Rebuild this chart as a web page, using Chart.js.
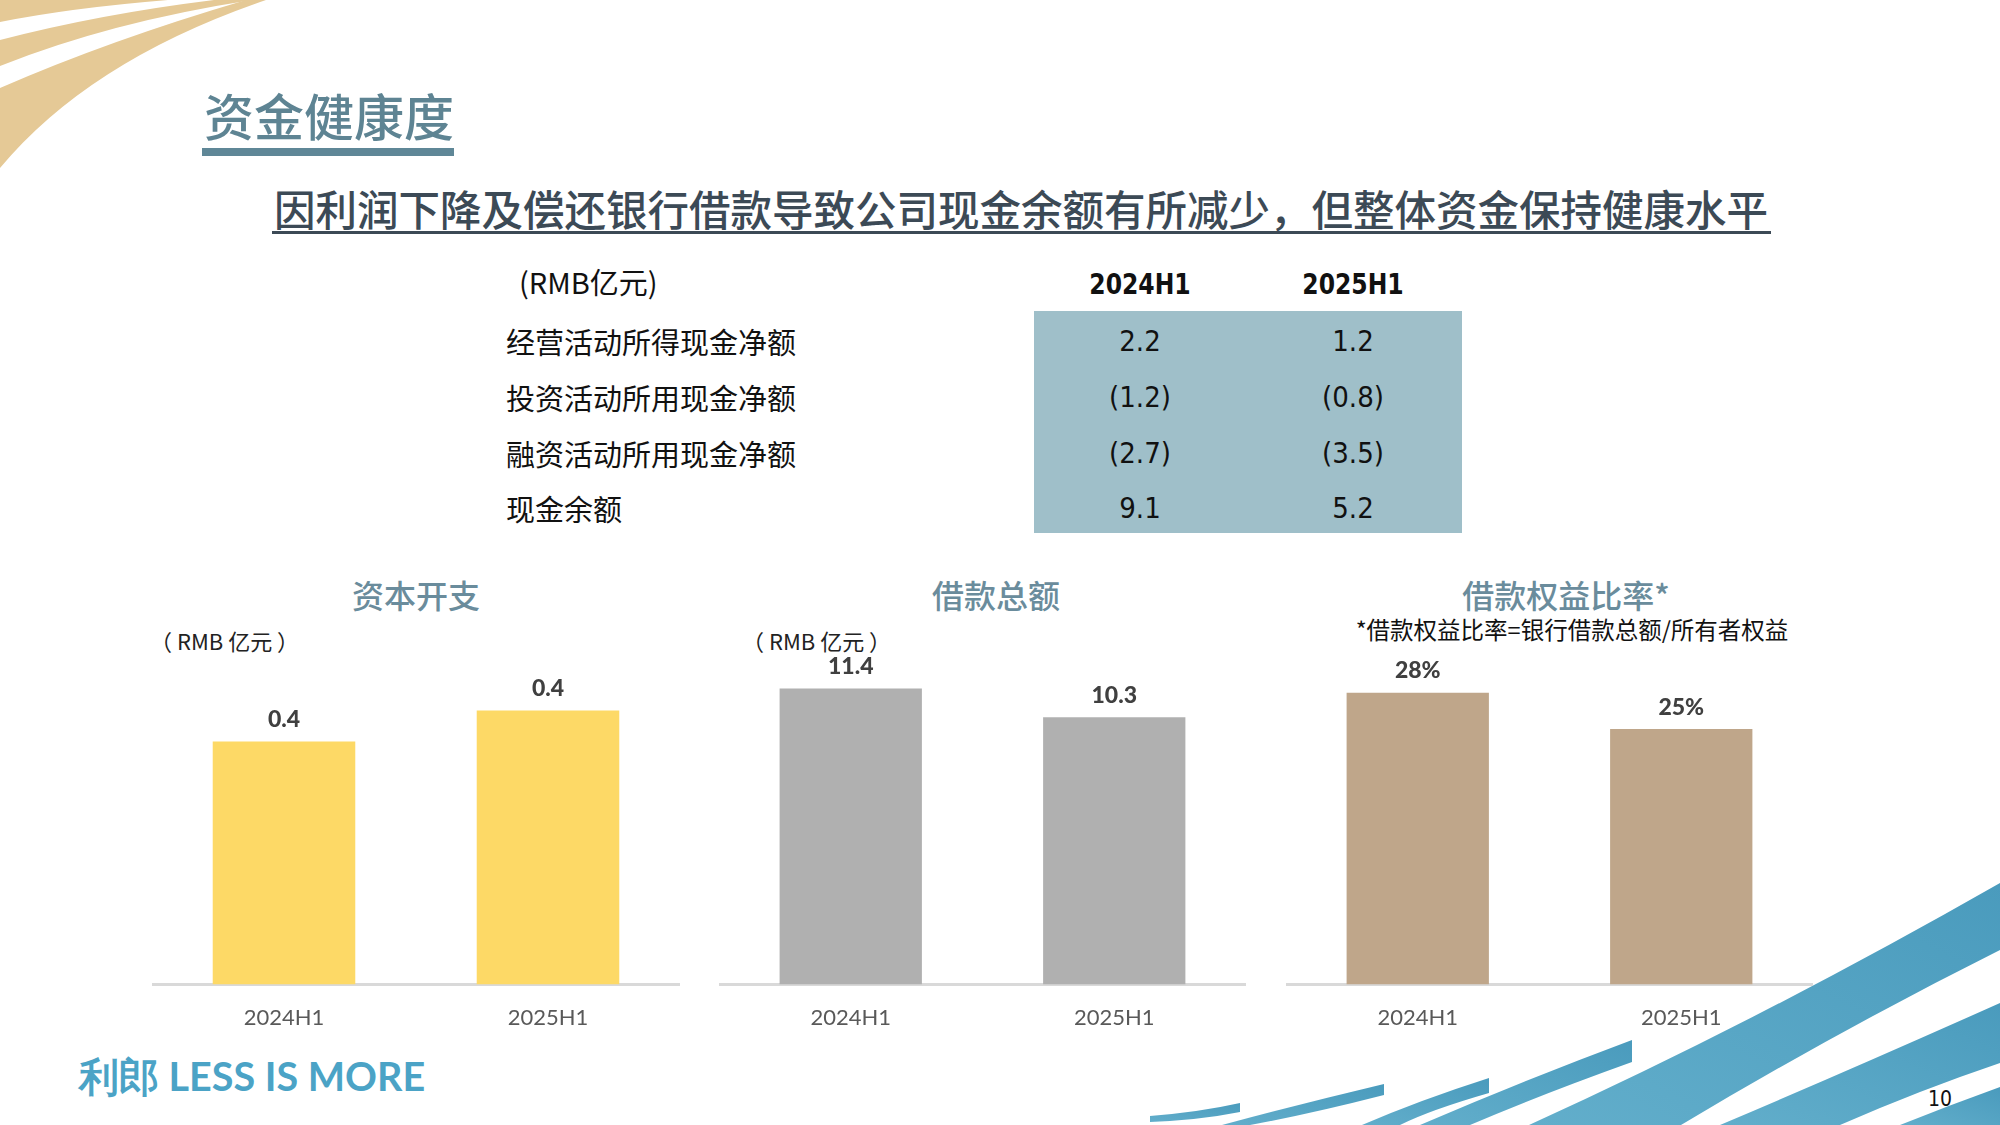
<!DOCTYPE html>
<html>
<head>
<meta charset="utf-8">
<script src="https://cdn.jsdelivr.net/npm/chart.js@4.4.1/dist/chart.umd.min.js"></script>
<style>
  html, body { margin: 0; padding: 0; background: #fff; }
  #page { position: relative; width: 2000px; height: 1125px; overflow: hidden; background: #fff; font-family: "Noto Sans CJK SC", "Noto Sans", sans-serif; }
  .abs { position: absolute; white-space: nowrap; }
  .ctr { transform: translate(-50%, -50%); }
  .midY { transform: translateY(-50%); }
  .panelTitle { font-size: 32px; color: #6a8c9c; font-weight: 500; }
  .unit { font-size: 22px; color: #222; }
  .tbl { font-size: 29px; color: #111; }
  .num { font-family: "Liberation Sans Narrow", "Arial Narrow", "DejaVu Sans", sans-serif; font-stretch: condensed; font-size: 29px; color: #111; }
  .hdr { transform: translate(-50%, -50%) scaleX(0.9); font-weight: bold; }
  canvas { position: absolute; }
</style>
</head>
<body>
<div id="page">
  <svg class="abs" style="left:0;top:0" width="2000" height="1125" viewBox="0 0 2000 1125">
    <defs>
      <linearGradient id="blue" x1="0" y1="1" x2="1" y2="0">
        <stop offset="0" stop-color="#62aecb"/>
        <stop offset="1" stop-color="#4a9bbd"/>
      </linearGradient>
    </defs>
    <g fill="#e5c996">
      <path d="M0,0 L0,22 Q70,8 168,0 Z"/>
      <path d="M0,40 L0,66 Q110,22 252,0 L214,0 Q100,14 0,40 Z"/>
      <path d="M0,88 L0,168 Q90,60 266,0 L246,0 Q110,40 0,88 Z"/>
    </g>
    <g fill="url(#blue)">
      <path d="M2000,883 Q1760,1020 1529,1125 L1681,1125 Q1840,1030 2000,950 Z"/>
      <path d="M2000,1003 Q1850,1070 1720,1125 L1840,1125 Q1920,1090 2000,1063 Z"/>
      <path d="M2000,1087 Q1950,1105 1900,1125 L2000,1125 Z"/>
      <path d="M1632,1040 L1632,1062 Q1540,1095 1470,1125 L1420,1125 Q1530,1078 1632,1040 Z"/>
      <path d="M1489,1078 L1489,1093 Q1430,1110 1400,1125 L1362,1125 Q1420,1100 1489,1078 Z"/>
      <path d="M1384,1084 L1384,1095 Q1310,1114 1250,1125 L1222,1125 Q1300,1104 1384,1084 Z"/>
      <path d="M1240,1103 L1240,1112 Q1200,1120 1150,1122 L1150,1116 Q1200,1112 1240,1103 Z"/>
    </g>
  </svg>

  <div class="abs midY" style="left:204px;top:114px;font-size:50px;color:#5e8493;font-weight:500;">资金健康度</div>
  <div class="abs" style="left:202px;top:148px;width:252px;height:8px;background:#5f8797;"></div>

  <div class="abs ctr" style="left:1021px;top:208px;font-size:41.5px;color:#3c4a56;font-weight:500;">因利润下降及偿还银行借款导致公司现金余额有所减少，但整体资金保持健康水平</div>
  <div class="abs" style="left:272px;top:231px;width:1499px;height:3px;background:#3c4a56;"></div>

  <div id="table"></div>

  <div class="abs ctr panelTitle" style="left:416px;top:594px;">资本开支</div>
  <div class="abs ctr panelTitle" style="left:996px;top:594px;">借款总额</div>
  <div class="abs ctr panelTitle" style="left:1566px;top:594px;">借款权益比率*</div>
  <div class="abs midY unit" style="left:150px;top:640px;">（ RMB 亿元 ）</div>
  <div class="abs midY unit" style="left:742px;top:640px;">（ RMB 亿元 ）</div>
  <div class="abs ctr unit" style="left:1572px;top:629px;font-size:23.5px;color:#111;">*借款权益比率=银行借款总额/所有者权益</div>

  <canvas id="capex"></canvas>
  <canvas id="borrow"></canvas>
  <canvas id="gearing"></canvas>

  <div class="abs midY" style="left:79px;top:1078px;font-family:'Lato','Noto Sans',sans-serif;font-size:39.5px;font-weight:700;color:#4ba3c6;">利郎 LESS IS MORE</div>
  <div class="abs ctr" style="left:1940px;top:1099px;font-family:'Liberation Sans Narrow','DejaVu Sans',sans-serif;font-stretch:condensed;font-size:21px;color:#111;">10</div>
</div>

<script>
// periods shared by the table and the three bar charts
const periods = ["2024H1", "2025H1"];

// cash flow table (RMB 亿元), negatives shown in brackets
const cashFlowRows = ["经营活动所得现金净额", "投资活动所用现金净额", "融资活动所用现金净额", "现金余额"];
const cashFlow2024 = [2.2, -1.2, -2.7, 9.1];
const cashFlow2025 = [1.2, -0.8, -3.5, 5.2];

// bar charts
const capexValues = [0.39, 0.44];
const borrowingValues = [11.4, 10.3];
const gearingValues = [28.1, 24.6];

function fmtFlow(v) {
    const s = Math.abs(v).toFixed(1);
    return v < 0 ? "(" + s + ")" : s;
}

// table, laid out as on the slide
(function buildTable() {
    const host = document.getElementById("table");
    const colX = [1140, 1353];
    const rowY = [341, 397, 453, 508];
    let html = '<div class="abs midY tbl" style="left:519px;top:281px;font-family:\'Liberation Sans Narrow\',\'Noto Sans CJK SC\',sans-serif;">(RMB亿元)</div>';
    periods.forEach((p, i) => {
        html += `<div class="abs num hdr" style="left:${colX[i]}px;top:284px;">${p}</div>`;
    });
    html += '<div class="abs" style="left:1034px;top:311px;width:428px;height:222px;background:#9fbfc9;"></div>';
    cashFlowRows.forEach((name, r) => {
        html += `<div class="abs midY tbl" style="left:506px;top:${rowY[r]}px;">${name}</div>`;
        html += `<div class="abs ctr num" style="left:${colX[0]}px;top:${rowY[r]}px;">${fmtFlow(cashFlow2024[r])}</div>`;
        html += `<div class="abs ctr num" style="left:${colX[1]}px;top:${rowY[r]}px;">${fmtFlow(cashFlow2025[r])}</div>`;
    });
    host.innerHTML = html;
})();

const barLabels = {
    id: "barLabels",
    afterDatasetsDraw(chart, args, opts) {
        const ctx = chart.ctx;
        const meta = chart.getDatasetMeta(0);
        ctx.save();
        ctx.font = "900 23px Lato, 'Open Sans', sans-serif";
        ctx.fillStyle = "#404040";
        ctx.textAlign = "center";
        ctx.textBaseline = "middle";
        meta.data.forEach((bar, i) => {
            ctx.fillText(opts.format(chart.data.datasets[0].data[i]), bar.x, bar.y - 22);
        });
        ctx.restore();
    }
};

function makeBar(id, left, width, values, color, max, format) {
    const el = document.getElementById(id);
    el.style.left = left + "px";
    el.style.top = "600px";
    el.style.width = width + "px";
    el.style.height = "451px";
    return new Chart(el, {
        type: "bar",
        data: {
            labels: periods,
            datasets: [{
                data: values,
                backgroundColor: color,
                categoryPercentage: 1,
                barPercentage: 0.54,
            }]
        },
        options: {
            responsive: false,
            animation: false,
            devicePixelRatio: 1,
            layout: { padding: { top: 73, left: 0, right: 0, bottom: 0 } },
            plugins: {
                legend: { display: false },
                tooltip: { enabled: false },
                barLabels: { format: format },
            },
            scales: {
                x: {
                    grid: { display: false, drawTicks: false },
                    border: { display: true, color: "#d9d9d9", width: 3 },
                    ticks: { color: "#595959", padding: 20, font: { family: "Lato, 'Open Sans', sans-serif", size: 22 } },
                },
                y: { display: false, min: 0, max: max },
            }
        },
        plugins: [barLabels]
    });
}

makeBar("capex", 152, 528, capexValues, "#fdd966", 0.5, (v) => v.toFixed(1));
makeBar("borrow", 719, 527, borrowingValues, "#b0b0b0", 12, (v) => v.toFixed(1));
makeBar("gearing", 1286, 527, gearingValues, "#bfa68a", 30, (v) => Math.round(v) + "%");
</script>
</body>
</html>
